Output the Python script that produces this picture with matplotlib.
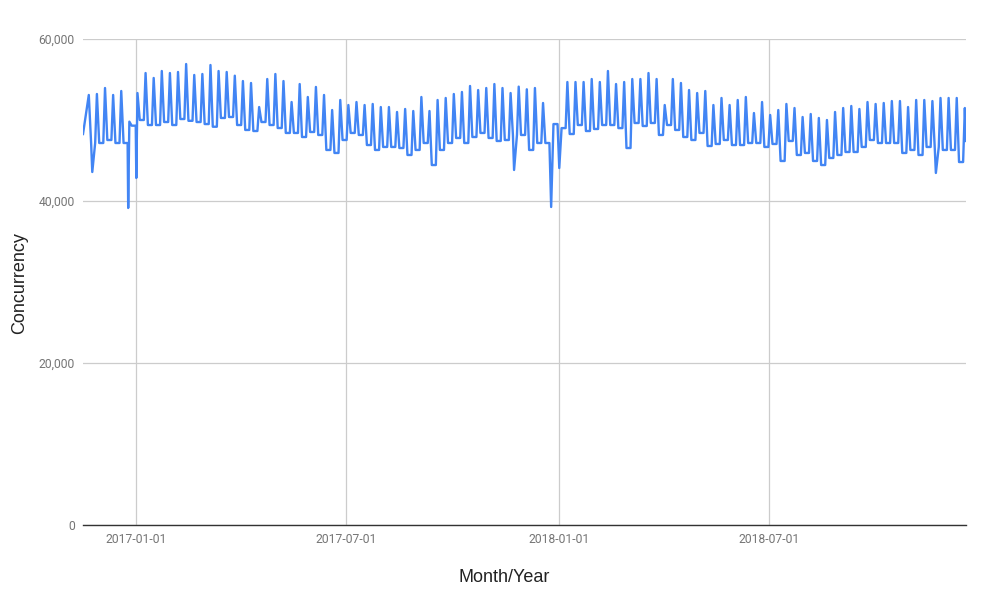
import pandas as pd
import matplotlib.pyplot as plt
import matplotlib.dates as mdates
from matplotlib.ticker import FuncFormatter

# weekly cycle: peak day value and the low level between peaks
first_peak = '2016-11-21'
weekly_peak = [
    53090, 53210, 53950, 53090, 53580, 49800, 53330, 55800, 55190, 56050,
    55800, 55930, 56910, 55560, 55680, 56790, 56050, 55930, 55470, 54810,
    54570, 51600, 55060, 55680, 54810, 52220, 54440, 52840, 54080, 53090,
    51230, 52470, 51850, 52220, 51850, 51980, 51600, 51600, 50990, 51360,
    51110, 52840, 51110, 52470, 52720, 53210, 53460, 54200, 53700, 53950,
    54440, 53950, 53330, 54120, 53790, 53950, 52100, 39260, 44070, 54690,
    54690, 54690, 55060, 54690, 56050, 54440, 54690, 55060, 55060, 55800,
    55060, 51850, 55060, 54570, 53700, 53330, 53580, 51850, 52720, 51850,
    52470, 52840, 50860, 52220, 50620, 51230, 51980, 51480, 50370, 50740,
    50250, 50000, 50990, 51480, 51730, 51360, 52220, 51980, 52100, 52340,
    52340, 51600, 52470, 52470, 52340, 52720, 52720, 52720, 51480,
]
weekly_low = [
    47160, 47160, 47530, 47160, 47160, 49300, 50000, 49380, 49380, 49750,
    49380, 50120, 49900, 49750, 49500, 49170, 50250, 50370, 49380, 48770,
    48640, 49750, 49380, 49010, 48400, 48400, 47900, 48520, 48150, 46300,
    45930, 47530, 48400, 48150, 46910, 46300, 46670, 46670, 46540, 45680,
    46300, 47160, 44440, 46300, 47160, 47780, 47160, 47900, 48400, 47780,
    47410, 47530, 48150, 48150, 46300, 47160, 47160, 49500, 49000, 48270,
    49380, 48640, 48890, 49380, 49380, 49000, 46540, 49630, 49260, 49630,
    48150, 49380, 48770, 47900, 47530, 48400, 46790, 47040, 47530, 46910,
    46910, 47160, 47160, 46670, 47040, 44940, 47410, 45680, 45930, 44940,
    44440, 45310, 45680, 46050, 46050, 46670, 47530, 47160, 47160, 47160,
    45930, 46300, 45680, 46670, 46670, 46300, 46300, 44810,
]

# single days outside the weekly pattern (holidays, first and last day)
extra_dates = ['2016-11-16', '2016-11-24', '2016-12-25', '2017-01-01',
               '2017-11-23', '2018-11-22', '2018-12-18']
extra_values = [48270, 43580, 39140, 42840, 43830, 43460, 47410]

tick_dates = ['2017-01-01', '2017-07-01', '2018-01-01', '2018-07-01']


def build_series() -> pd.Series:
    start = pd.Timestamp(first_peak)
    rows = []
    for i, peak in enumerate(weekly_peak):
        day = start + pd.Timedelta(days=7 * i)
        rows.append((day, peak))
        if i < len(weekly_low):
            rows.append((day + pd.Timedelta(days=2), weekly_low[i]))
            rows.append((day + pd.Timedelta(days=5, hours=12), weekly_low[i]))
    for d, v in zip(extra_dates, extra_values):
        rows.append((pd.Timestamp(d), v))
    s = pd.Series(dict(rows)).sort_index()
    return s


def plot_concurrency(s: pd.Series) -> None:
    fig = plt.figure(figsize=(9.98, 5.91), dpi=100)
    ax = fig.add_axes([83 / 998, 66 / 591, 883 / 998, 486 / 591])

    ax.plot(s.index, s.values, color='#4285f4', linewidth=1.7)

    ax.set_xlim(s.index.min(), s.index.max())
    ax.set_ylim(0, 60000)
    ax.set_yticks([0, 20000, 40000, 60000])
    ax.yaxis.set_major_formatter(FuncFormatter(lambda v, p: f'{int(v):,}'))
    ax.set_xticks(pd.to_datetime(tick_dates))
    ax.xaxis.set_major_formatter(mdates.DateFormatter('%Y-%m-%d'))

    ax.grid(True, color='#cccccc', linewidth=0.9)
    ax.set_axisbelow(True)
    for side in ['top', 'right', 'left']:
        ax.spines[side].set_visible(False)
    ax.spines['bottom'].set_color('#333333')
    ax.spines['bottom'].set_linewidth(1.0)
    ax.tick_params(length=0, labelsize=8.7, labelcolor='#757575', pad=6)
    for lab in ax.get_xticklabels() + ax.get_yticklabels():
        lab.set_fontfamily('Roboto')

    fig.text(20 / 998, 1 - 283 / 591, 'Concurrency', rotation=90, ha='center',
             va='center', fontsize=13, color='#222222', family='Liberation Sans')
    fig.text(504 / 998, 1 - 577 / 591, 'Month/Year', ha='center', va='center',
             fontsize=13, color='#222222', family='Liberation Sans')

    fig.savefig('out.png', dpi=100)


if __name__ == '__main__':
    series = build_series()
    plot_concurrency(series)
